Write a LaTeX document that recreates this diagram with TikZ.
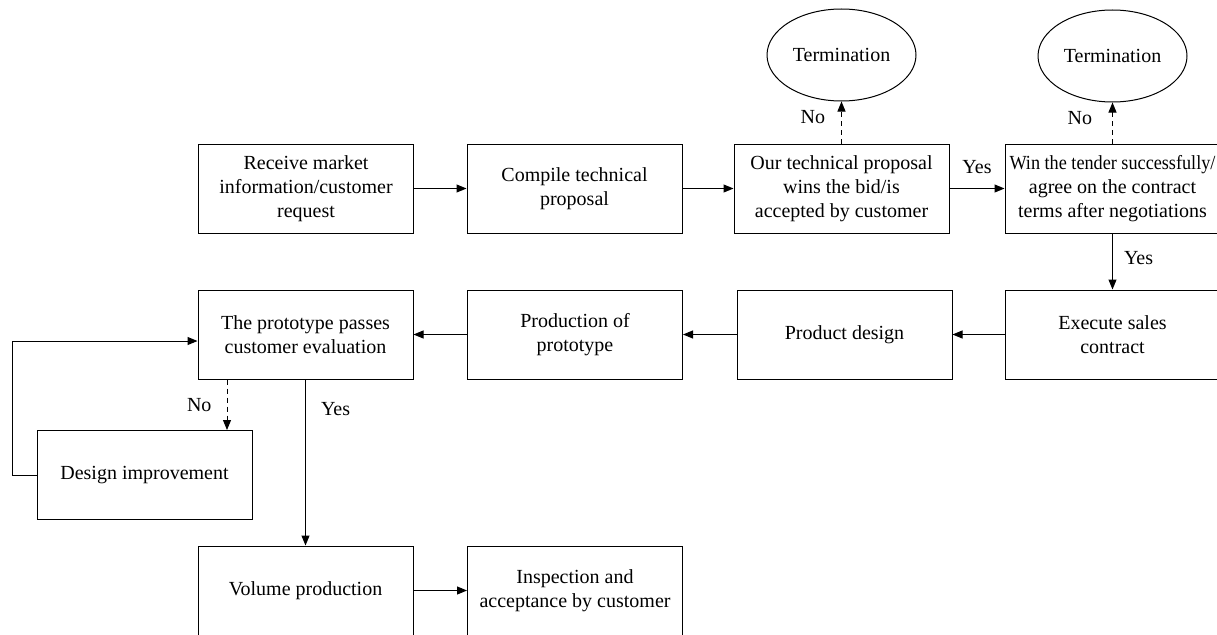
\documentclass[tikz,border=0pt]{standalone}
\usepackage{fontspec}
\setmainfont{Liberation Serif}
\usetikzlibrary{arrows.meta,shapes.geometric,positioning}
\tikzset{
  box/.style={draw, line width=1pt, minimum width=215pt, minimum height=89pt, align=center, inner sep=2pt},
  term/.style={draw, ellipse, line width=1pt, minimum width=149pt, minimum height=92pt, inner sep=0pt},
  flow/.style={line width=1pt, -{Triangle[length=10pt,width=8pt]}},
  dflow/.style={flow, dash pattern=on 5pt off 4pt},
  lbl/.style={inner sep=0pt}
}
\begin{document}
\begin{tikzpicture}[x=1pt, y=-1pt, font=\fontsize{20}{24}\selectfont]
\useasboundingbox (0,0) rectangle (1217,634);
\clip (0,0) rectangle (1217,634);
% Tender stage
\node[box] (recv) at (306,188.5) {Receive market\\information/customer\\request};
\node[box] (compile) at (574.5,188.5) {Compile technical\\proposal};
\node[box] (wins) at (841.5,188.5) {Our technical proposal\\wins the bid/is\\accepted by customer};
\node[box] (tender) at (1112.5,188.5) {\scalebox{0.91}[1]{Win the tender successfully/}\\agree on the contract\\terms after negotiations};
\node[term] (term1) at (841.5,55) {Termination};
\node[term] (term2) at (1112.5,56) {Termination};
% Contract and prototype stage
\node[box] (execute) at (1112.5,334.5) {Execute sales\\contract};
\node[box] (pdesign) at (844.5,334.5) {Product design};
\node[box] (pproto) at (575,334.5) {Production of\\prototype};
\node[box] (passes) at (305.5,334.5) {The prototype passes\\customer evaluation};
\node[box] (improve) at (144.5,475) {Design improvement};
% Volume stage
\node[box] (volume) at (305.5,590.5) {Volume production};
\node[box] (inspect) at (575,590.5) {Inspection and\\acceptance by customer};
% Connectors
\draw[flow] (recv) -- (compile);
\draw[flow] (compile) -- (wins);
\draw[flow] (wins) -- node[lbl, above=14pt] {Yes} (tender);
\draw[dflow] (wins.north) -- node[lbl, pos=0.63, left=16pt] {No} (term1.south);
\draw[dflow] (tender.north) -- node[lbl, pos=0.63, left=20pt] {No} (term2.south);
\draw[flow] (tender) -- node[lbl, pos=0.43, right=11pt] {Yes} (execute);
\draw[flow] (execute) -- (pdesign);
\draw[flow] (pdesign) -- (pproto);
\draw[flow] (pproto) -- (passes);
\draw[flow] (passes) -- node[lbl, pos=0.18, right=15pt] {Yes} (volume);
\draw[dflow] ([xshift=-78.5pt]passes.south) -- node[lbl, left=15pt] {No} ([xshift=-78.5pt]passes.south |- improve.north);
\draw[flow] (improve.west) -- ++(-24,0) |- ([yshift=-6.5pt]passes.west);
\draw[flow] (volume) -- (inspect);
\end{tikzpicture}
\end{document}
